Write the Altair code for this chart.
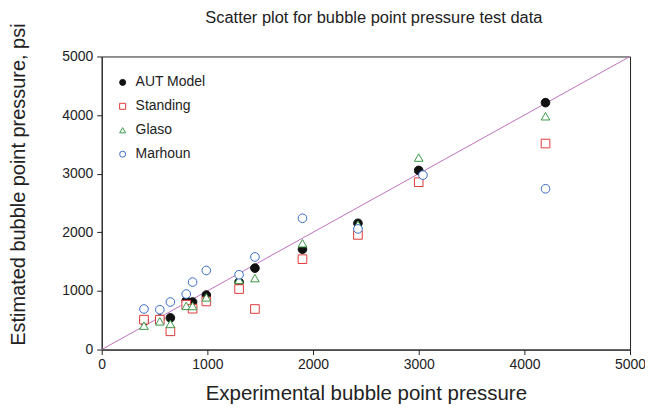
import altair as alt
import pandas as pd

series_names = ["AUT Model", "Standing", "Glaso", "Marhoun"]

aut_x = [400, 550, 650, 800, 860, 990, 1300, 1450, 1900, 2425, 3000, 4200]
aut_y = [490, 520, 540, 833, 811, 930, 1150, 1389, 1712, 2154, 3056, 4212]

standing_x = [400, 550, 650, 800, 860, 990, 1300, 1450, 1900, 2425, 3000, 4200]
standing_y = [510, 510, 311, 765, 697, 821, 1032, 692, 1542, 1956, 2855, 3515]

glaso_x = [400, 550, 650, 800, 860, 990, 1300, 1450, 1900, 2425, 3000, 4200]
glaso_y = [408, 481, 437, 745, 743, 890, 1190, 1219, 1814, 2130, 3275, 3980]

marhoun_x = [400, 550, 650, 800, 860, 990, 1300, 1450, 1900, 2425, 3040, 4200]
marhoun_y = [692, 680, 811, 947, 1151, 1349, 1276, 1580, 2240, 2058, 2976, 2743]

line_x = [0, 5000]
line_y = [0, 5000]

tick_values = [0, 1000, 2000, 3000, 4000, 5000]

rows = []
for name, xs, ys in [("AUT Model", aut_x, aut_y), ("Standing", standing_x, standing_y),
                     ("Glaso", glaso_x, glaso_y), ("Marhoun", marhoun_x, marhoun_y)]:
    for x, y in zip(xs, ys):
        rows.append({"series": name, "x": x, "y": y})
df = pd.DataFrame(rows)
line_df = pd.DataFrame({"x": line_x, "y": line_y})

FONT = "Liberation Sans"

xscale = alt.Scale(domain=[0, 5000], nice=False, zero=True)
yscale = alt.Scale(domain=[0, 5000], nice=False, zero=True)

common = dict(values=tick_values, grid=False, tickSize=5, format="d",
              labelFontSize=14, labelColor="#222", titleColor="#222",
              titleFontWeight="normal", domainColor="#222", tickColor="#222",
              labelFlush=False)
xaxis = alt.Axis(labelPadding=3, titlePadding=12, titleFontSize=20.5, **common)
yaxis = alt.Axis(labelPadding=4, titlePadding=33, titleY=128, titleFontSize=20, **common)

diag = alt.Chart(line_df).mark_line(color="#c070c0", strokeWidth=1).encode(
    x=alt.X("x:Q", scale=xscale, axis=xaxis, title="Experimental bubble point pressure"),
    y=alt.Y("y:Q", scale=yscale, axis=yaxis, title="Estimated bubble point pressure, psi"),
)

legend = alt.Legend(title=None, orient="none", legendX=14, legendY=19,
                    labelFont=FONT, labelFontSize=14, labelColor="#222",
                    symbolSize=36, symbolStrokeWidth=1, rowPadding=10, labelOffset=6)

points = alt.Chart(df).mark_point(filled=False, size=75, strokeWidth=1, opacity=1).encode(
    x=alt.X("x:Q", scale=xscale),
    y=alt.Y("y:Q", scale=yscale),
    stroke=alt.Stroke("series:N", scale=alt.Scale(domain=series_names,
                      range=["#111111", "#e23a3a", "#3a9a46", "#3a6ac8"]), legend=legend),
    fill=alt.Fill("series:N", scale=alt.Scale(domain=series_names,
                  range=["#111111", "white", "white", "white"]), legend=legend),
    shape=alt.Shape("series:N", scale=alt.Scale(domain=series_names,
                    range=["circle", "square", "triangle-up", "circle"]), legend=legend),
)

chart = alt.layer(diag, points).properties(
    width=530, height=294,
    autosize=alt.AutoSizeParams(type="none"),
    padding={"left": 94, "top": 48, "right": 15, "bottom": 56},
    title=alt.Title("Scatter plot for bubble point pressure test data", fontSize=16.5,
                    fontWeight="normal", font=FONT, color="#222", anchor="middle",
                    offset=-4, dx=8),
).configure(font=FONT).configure_view(stroke="#222", strokeWidth=1)

chart.save("out.html", embed_options={"renderer": "svg", "actions": False})
